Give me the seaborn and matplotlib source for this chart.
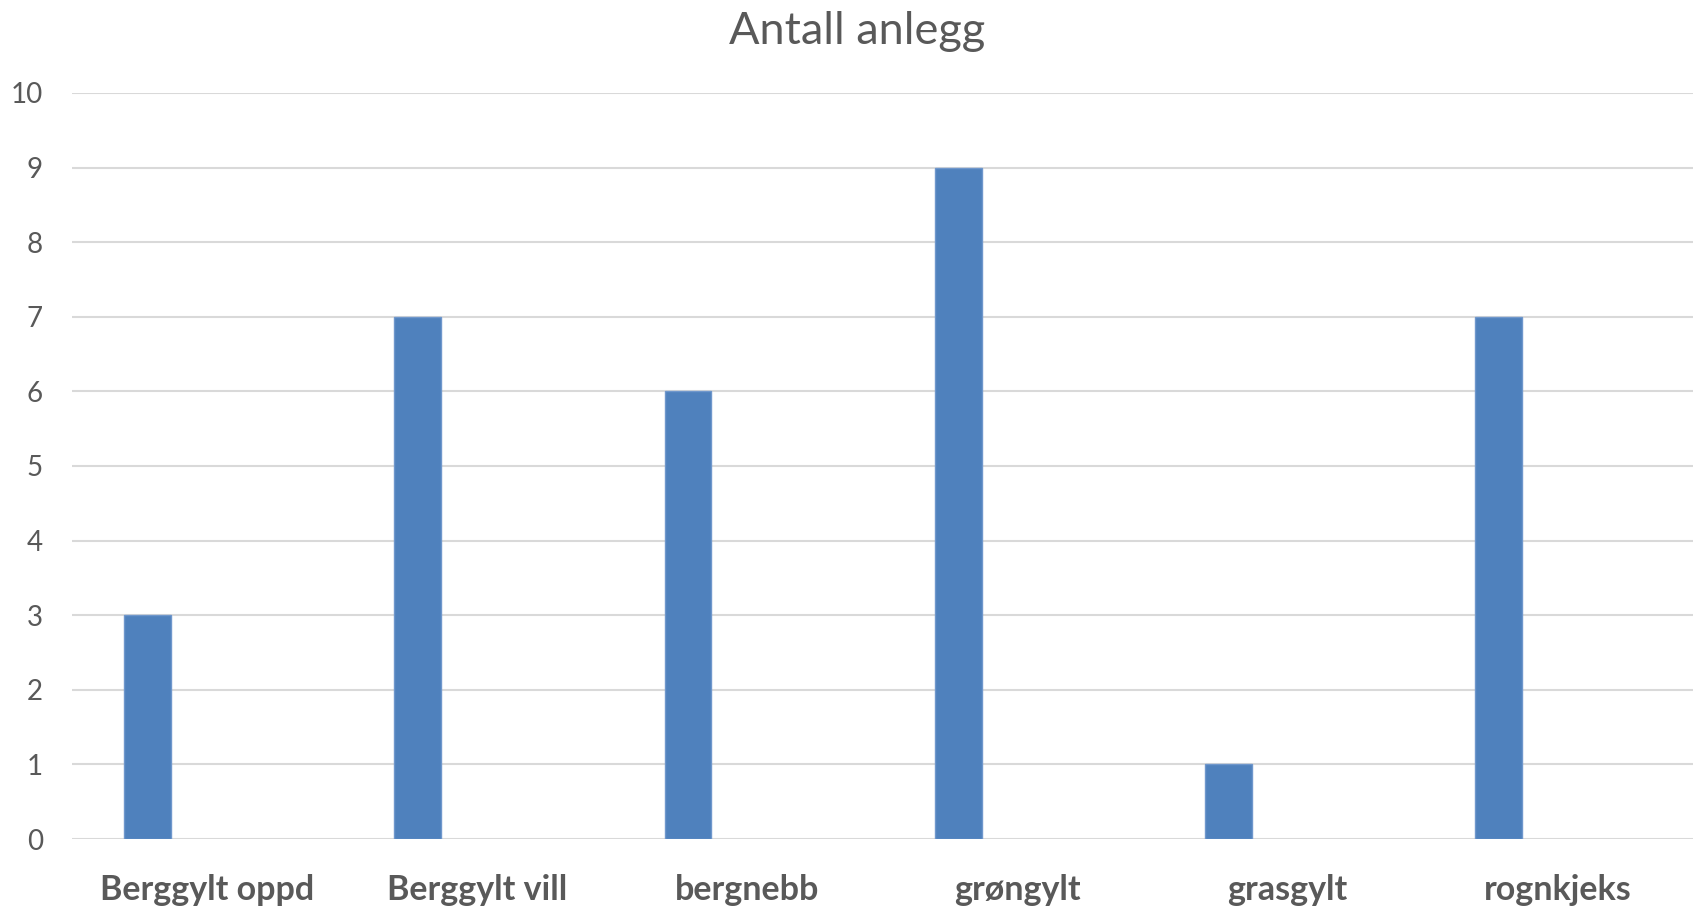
import matplotlib
matplotlib.use("Agg")
import matplotlib.pyplot as plt
import seaborn as sns
import pandas as pd
import numpy as np

# Data
categories = ["Berggylt oppd", "Berggylt vill", "bergnebb", "grøngylt", "grasgylt", "rognkjeks"]
antall_anlegg = [3, 7, 6, 9, 1, 7]
series_names = ["Antall anlegg", "(tom)"]
y_ticks = [0, 1, 2, 3, 4, 5, 6, 7, 8, 9, 10]
title = "Antall anlegg"

sns.set_theme(style="white")
plt.rcParams["font.family"] = ["Lato", "DejaVu Sans"]

df = pd.DataFrame({
    "kategori": categories + categories,
    "verdi": antall_anlegg + [np.nan] * len(categories),
    "serie": [series_names[0]] * len(categories) + [series_names[1]] * len(categories),
})

W, H = 1694, 907
fig = plt.figure(figsize=(W / 100, H / 100), dpi=100)
ax = fig.add_axes([72 / W, (H - 839) / H, (1693 - 72) / W, (839 - 93) / H])

sns.barplot(data=df, x="kategori", y="verdi", hue="serie", hue_order=series_names,
            order=categories, palette=["#4F81BD", "#C0504D"], width=0.88, gap=0.605,
            legend=False, ax=ax, saturation=1, edgecolor="#6F97CC", linewidth=1)

ax.set_ylim(0, 10)
ax.set_yticks(y_ticks)
ax.set_xlim(-0.5, len(categories) - 0.5)
ax.set_xlabel("")
ax.set_ylabel("")
for s in ax.spines.values():
    s.set_visible(False)
ax.yaxis.grid(True, color="#D9D9D9", linewidth=1.5)
ax.set_axisbelow(True)
ax.tick_params(axis="y", length=0, pad=21, labelsize=20, labelcolor="#595959")
ax.tick_params(axis="x", length=0, pad=25, labelsize=24.5, labelcolor="#595959")
for lab in ax.get_xticklabels():
    lab.set_fontweight("bold")

fig.text(857 / W, 1 - 31 / H, title, ha="center", va="center", fontsize=32.5, color="#595959")

fig.savefig("out.png", dpi=100, facecolor="white")
